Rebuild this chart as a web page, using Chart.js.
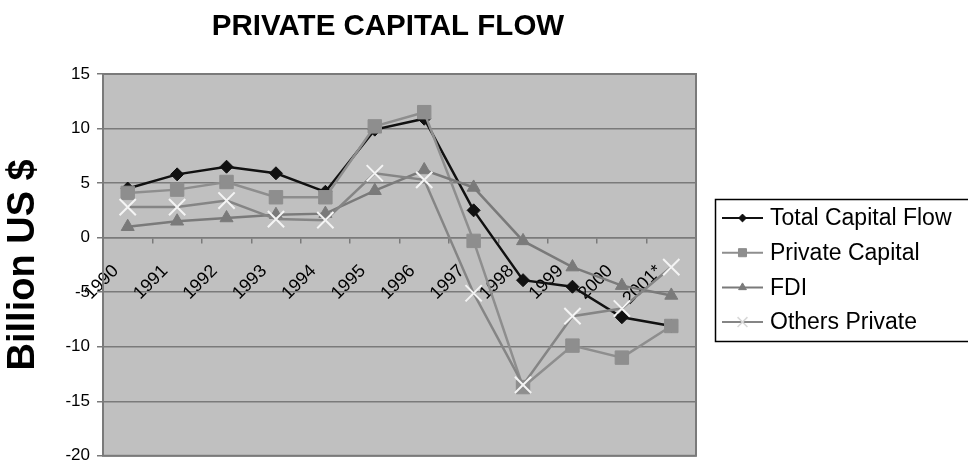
<!DOCTYPE html>
<html>
<head>
<meta charset="utf-8">
<title>Private Capital Flow</title>
<script src="https://cdn.jsdelivr.net/npm/chart.js@4.4.1/dist/chart.umd.min.js"></script>
<style>
  html, body { margin: 0; padding: 0; background: #fff; }
  #wrap { width: 968px; height: 473px; }
</style>
</head>
<body>
<div id="wrap"><canvas id="cv" width="968" height="473"></canvas></div>
<script>
// jahre + werte (Mrd. US$)
const years = ["1990", "1991", "1992", "1993", "1994", "1995", "1996", "1997", "1998", "1999", "2000", "2001*"];
const totalFlow = [4.5, 5.8, 6.5, 5.9, 4.2, 9.9, 10.9, 2.5, -3.9, -4.5, -7.3, -8.1];
const privateCapital = [4.1, 4.4, 5.1, 3.7, 3.7, 10.2, 11.5, -0.3, -13.7, -9.9, -11.0, -8.1];
const fdi = [1.0, 1.5, 1.8, 2.1, 2.2, 4.3, 6.2, 4.6, -0.3, -2.7, -4.4, -5.3];
const othersPrivate = [2.8, 2.8, 3.4, 1.7, 1.6, 5.9, 5.3, -5.1, -13.5, -7.2, -6.5, -2.7];
const yTicks = [-20, -15, -10, -5, 0, 5, 10, 15];

const FONT = '"Liberation Sans", Arial, Helvetica, sans-serif';

const datasets = [
    {
        label: "Total Capital Flow", data: totalFlow, order: 4,
        borderColor: "#111111", backgroundColor: "#111111", borderWidth: 2.5,
        pointStyle: "rectRot", pointRadius: 6.5, pointBorderWidth: 1, pointBorderColor: "#111111"
    },
    {
        label: "Private Capital", data: privateCapital, order: 3,
        borderColor: "#8e8e8e", backgroundColor: "#8e8e8e", borderWidth: 2.5,
        pointStyle: "rect", pointRadius: 9.5, pointBorderWidth: 1, pointBorderColor: "#8e8e8e"
    },
    {
        label: "FDI", data: fdi, order: 2,
        borderColor: "#7a7a7a", backgroundColor: "#7a7a7a", borderWidth: 2.5,
        pointStyle: "triangle", pointRadius: 7.5, pointBorderWidth: 1, pointBorderColor: "#7a7a7a"
    },
    {
        label: "Others Private", data: othersPrivate, order: 1,
        borderColor: "#858585", backgroundColor: "#f4f4f4", borderWidth: 2.5,
        pointStyle: "crossRot", pointRadius: 11.5, pointBorderWidth: 2, pointBorderColor: "#f4f4f4"
    }
];
for (let ds of datasets) {
    ds.tension = 0;
    ds.fill = false;
    ds.pointBackgroundColor = ds.backgroundColor;
}

//plotfläche, titel und legende mit rahmen
const decor = {
    id: "decor",
    beforeDraw(chart) {
        const { ctx, chartArea: a } = chart;
        ctx.save();
        ctx.fillStyle = "#c0c0c0";
        ctx.fillRect(a.left, a.top, a.right - a.left, a.bottom - a.top);
        ctx.restore();
    },
    beforeDatasetsDraw(chart) {
        const { ctx, chartArea: a } = chart;
        ctx.save();
        ctx.strokeStyle = "#7a7a7a";
        ctx.lineWidth = 2;
        ctx.strokeRect(a.left, a.top, a.right - a.left, a.bottom - a.top);
        ctx.restore();
    },
    afterDraw(chart) {
        const ctx = chart.ctx;
        ctx.save();
        ctx.fillStyle = "#000";
        ctx.font = "bold 29.5px " + FONT;
        ctx.textAlign = "center";
        ctx.textBaseline = "alphabetic";
        ctx.fillText("PRIVATE CAPITAL FLOW", 388, 34.5);

        // legende
        ctx.strokeStyle = "#000";
        ctx.lineWidth = 1.5;
        ctx.strokeRect(715.5, 199.5, 300, 142);
        ctx.font = "23px " + FONT;
        ctx.textAlign = "left";
        ctx.textBaseline = "middle";
        datasets.forEach((ds, i) => {
            const y = 218 + i * 34.7;
            ctx.strokeStyle = ds.borderColor;
            ctx.lineWidth = 2;
            ctx.beginPath();
            ctx.moveTo(722, y);
            ctx.lineTo(763, y);
            ctx.stroke();
            if (Chart.helpers && Chart.helpers.drawPoint) {
                const cross = ds.pointStyle === "crossRot";
                ctx.fillStyle = ds.pointBackgroundColor;
                ctx.strokeStyle = cross ? "#d8d8d8" : ds.pointBorderColor;
                ctx.lineWidth = cross ? 1.5 : 1;
                Chart.helpers.drawPoint(ctx, {
                    pointStyle: ds.pointStyle,
                    radius: cross ? 7 : ds.pointRadius * 0.6,
                    rotation: 0,
                    borderWidth: ctx.lineWidth
                }, 742.5, y);
            }
            ctx.fillStyle = "#000";
            ctx.fillText(ds.label, 770, y + 1);
        });
        ctx.restore();
    }
};

const config = {
    type: "line",
    data: { labels: years, datasets: datasets },
    options: {
        responsive: false,
        animation: false,
        layout: { padding: { left: 0, top: 74, right: 272, bottom: 6 } },
        plugins: {
            legend: { display: false },
            title: { display: false },
            tooltip: { enabled: false }
        },
        scales: {
            x: {
                type: "category",
                position: { y: 0 },
                offset: true,
                grid: { offset: true, drawOnChartArea: false, drawTicks: true, tickLength: 5, color: "#7a7a7a", lineWidth: 1.5 },
                border: { display: true, color: "#7a7a7a", width: 1.5 },
                ticks: {
                    autoSkip: false, minRotation: 45, maxRotation: 45,
                    color: "#000", font: { family: FONT, size: 18 },
                    padding: 18, labelOffset: -12
                }
            },
            y: {
                min: -20, max: 15,
                afterBuildTicks: (scale) => { scale.ticks = yTicks.map((v) => ({ value: v })); },
                afterFit: (scale) => { scale.width = 103; },
                grid: { color: "#7a7a7a", lineWidth: 1.5, tickLength: 6 },
                border: { color: "#7a7a7a", width: 1.5 },
                ticks: { color: "#000", font: { family: FONT, size: 17 }, padding: 7 },
                title: {
                    display: true, text: "Billion US $", color: "#000",
                    font: { family: FONT, size: 38, weight: "bold" },
                    padding: { top: 1, bottom: 0 }
                }
            }
        }
    },
    plugins: [decor]
};

new Chart(document.getElementById("cv").getContext("2d"), config);
</script>
</body>
</html>
